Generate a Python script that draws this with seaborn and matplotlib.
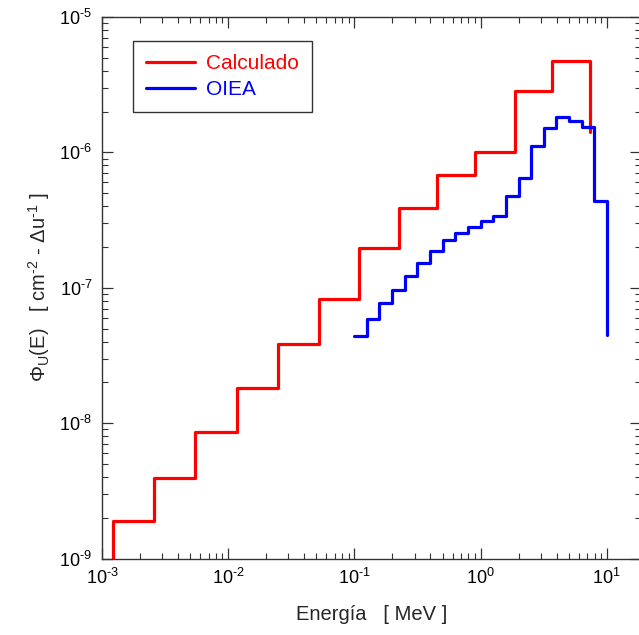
import numpy as np
import pandas as pd
import matplotlib
matplotlib.use("Agg")
import matplotlib.pyplot as plt
from matplotlib.ticker import FuncFormatter, LogLocator
import seaborn as sns

# Calculado: bin edges (MeV) and step values
calc_edges = [1.22e-3, 2.6e-3, 5.5e-3, 1.17e-2, 2.49e-2, 5.24e-2, 0.109, 0.224,
              0.452, 0.908, 1.86, 3.70, 7.40]
calc_vals = [1.9e-9, 3.92e-9, 8.65e-9, 1.81e-8, 3.83e-8, 8.22e-8, 1.96e-7,
             3.91e-7, 6.81e-7, 1.0e-6, 2.84e-6, 4.76e-6]
calc_start = 1e-10
calc_end = 1.42e-6

# OIEA: bin edges (MeV) and step values
oiea_edges = [0.1, 0.126, 0.158, 0.2, 0.251, 0.316, 0.398, 0.501, 0.631, 0.794,
              1.0, 1.26, 1.58, 2.0, 2.51, 3.16, 3.98, 5.01, 6.31, 7.94, 10.0]
oiea_vals = [4.38e-8, 5.85e-8, 7.68e-8, 9.68e-8, 1.23e-7, 1.53e-7, 1.86e-7,
             2.24e-7, 2.55e-7, 2.81e-7, 3.11e-7, 3.39e-7, 4.79e-7, 6.47e-7,
             1.11e-6, 1.51e-6, 1.82e-6, 1.71e-6, 1.53e-6, 4.38e-7]
oiea_end = 4.48e-8

sns.set_style("ticks")
plt.rcParams['font.family'] = ['Liberation Sans', 'DejaVu Sans']
plt.rcParams['mathtext.fontset'] = 'custom'
plt.rcParams['mathtext.rm'] = 'Liberation Sans'
plt.rcParams['mathtext.it'] = 'Liberation Sans'
plt.rcParams['mathtext.bf'] = 'Liberation Sans:bold'
plt.rcParams['mathtext.sf'] = 'Liberation Sans'
plt.rcParams['axes.unicode_minus'] = False

df_c = pd.DataFrame({"E": [calc_edges[0]] + calc_edges,
                     "phi": [calc_start] + calc_vals + [calc_end]})
df_o = pd.DataFrame({"E": oiea_edges, "phi": oiea_vals + [oiea_end]})

fig = plt.figure(figsize=(6.39, 6.35), dpi=100)
ax = fig.add_axes([102/639, (635-558.5)/635, 539/639, (558.5-17)/635])

sns.lineplot(data=df_c, x="E", y="phi", ax=ax, sort=False, color="#ff0000",
             lw=2.3, drawstyle="steps-post", label="Calculado", estimator=None)
sns.lineplot(data=df_o, x="E", y="phi", ax=ax, sort=False, color="#0000ff",
             lw=2.3, drawstyle="steps-post", label="OIEA", estimator=None)

ax.set_xscale("log")
ax.set_yscale("log")
ax.set_xlim(1e-3, 10**(-3 + 539/126.2))
ax.set_ylim(1e-9, 1e-5)


def fmt(v, pos):
    e = int(round(np.log10(v)))
    if e < 0:
        return r"10$^{\text{-}%d}$" % abs(e)
    return r"10$^{%d}$" % e


ax.xaxis.set_major_locator(LogLocator(base=10, numticks=20))
ax.yaxis.set_major_locator(LogLocator(base=10, numticks=20))
ax.xaxis.set_major_formatter(FuncFormatter(fmt))
ax.yaxis.set_major_formatter(FuncFormatter(fmt))

for s in ax.spines.values():
    s.set_color("#333333")
    s.set_linewidth(1.0)

ax.tick_params(which="major", direction="in", length=8, width=0.9,
               top=True, right=True, labelsize=13, colors="#333333",
               labelcolor="black", pad=7)
ax.tick_params(which="minor", direction="in", length=4, width=0.8,
               top=True, right=True, colors="#333333")

ax.set_xlabel("Energía   [ MeV ]", fontsize=14.5, labelpad=12)
ax.set_ylabel(r"$\Phi_{\mathrm{U}}$(E)   [ cm$^{\text{-}2}$ - $\Delta$u$^{\text{-}1}$ ]",
              fontsize=14.5, labelpad=5)

leg = ax.legend(loc="upper left", bbox_to_anchor=(0.058, 0.955), fontsize=15,
                frameon=True, fancybox=False, handlelength=2.35,
                handletextpad=0.55, borderpad=0.6, labelspacing=0.35,
                borderaxespad=0)
leg.get_frame().set_edgecolor("black")
leg.get_frame().set_linewidth(1.0)
for txt, c in zip(leg.get_texts(), ["#ff0000", "#0000ff"]):
    txt.set_color(c)

fig.savefig("out.png", dpi=100)
